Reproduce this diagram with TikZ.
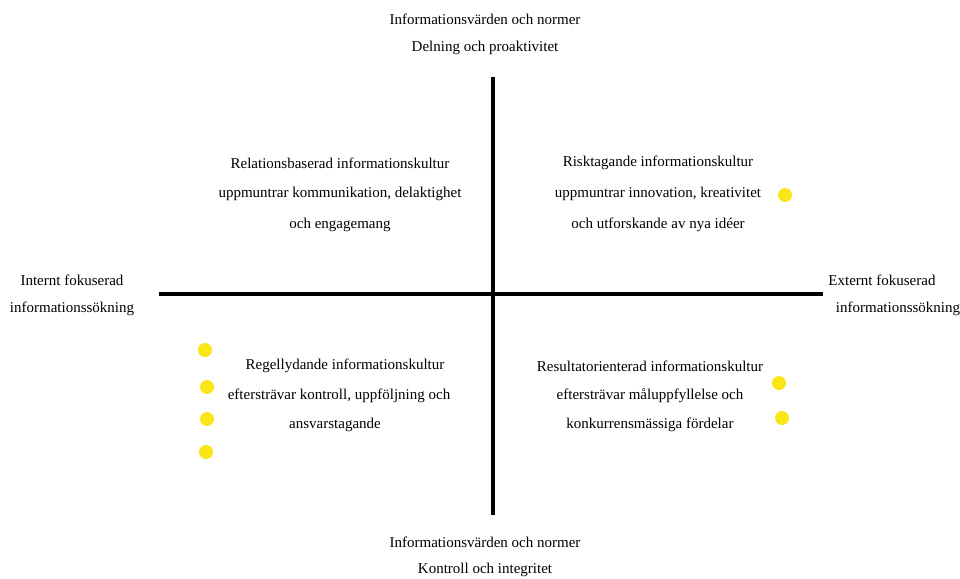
\documentclass[tikz,border=0pt]{standalone}
\usepackage{fontspec}
\setmainfont{Liberation Serif}
\definecolor{dotyellow}{RGB}{250,230,20}
\begin{document}
\begin{tikzpicture}[x=1pt,y=-1pt,
  lbl/.style={font=\fontsize{15}{17}\selectfont, inner sep=0pt, anchor=center},
  axis/.style={line width=3.5pt, black},
  dot/.style={circle, fill=dotyellow, minimum size=14pt, inner sep=0pt}]
\useasboundingbox (0,0) rectangle (960,578);
% axes
\coordinate (vt) at (493,77);
\coordinate (vb) at (493,515);
\coordinate (hl) at (159,294);
\coordinate (hr) at (823,294);
\draw[axis] (vt) -- (vb);
\draw[axis] (hl) -- (hr);
% top / bottom
\node[lbl] (t1) at (485,19) {Informationsvärden och normer};
\node[lbl] (t2) at (485,48) {Delning och proaktivitet};
\node[lbl] (b1) at (485,542) {Informationsvärden och normer};
\node[lbl] (b2) at (485,570) {Kontroll och integritet};
% left / right
\node[lbl] (l1) at (72,280) {Internt fokuserad};
\node[lbl] (l2) at (72,309) {informationssökning};
\node[lbl] (r1) at (882,280) {Externt fokuserad};
\node[lbl] (r2) at (898,309) {informationssökning};
% quadrants
\node[lbl] (q1a) at (340,163) {Relationsbaserad informationskultur};
\node[lbl] (q1b) at (340,194) {uppmuntrar kommunikation, delaktighet};
\node[lbl] (q1c) at (340,225) {och engagemang};
\node[lbl] (q2a) at (658,163) {Risktagande informationskultur};
\node[lbl] (q2b) at (658,194) {uppmuntrar innovation, kreativitet};
\node[lbl] (q2c) at (658,225) {och utforskande av nya idéer};
\node[lbl] (q3a) at (345,366) {Regellydande informationskultur};
\node[lbl] (q3b) at (339,396) {eftersträvar kontroll, uppföljning och};
\node[lbl] (q3c) at (335,425) {ansvarstagande};
\node[lbl] (q4a) at (650,366) {Resultatorienterad informationskultur};
\node[lbl] (q4b) at (650,396) {eftersträvar måluppfyllelse och};
\node[lbl] (q4c) at (650,425) {konkurrensmässiga fördelar};
% dots
\node[dot] (d1) at (785,195) {};
\node[dot] (d2) at (205,350) {};
\node[dot] (d3) at (207,387) {};
\node[dot] (d4) at (207,419) {};
\node[dot] (d5) at (206,452) {};
\node[dot] (d6) at (779,383) {};
\node[dot] (d7) at (782,418) {};
\end{tikzpicture}
\end{document}
